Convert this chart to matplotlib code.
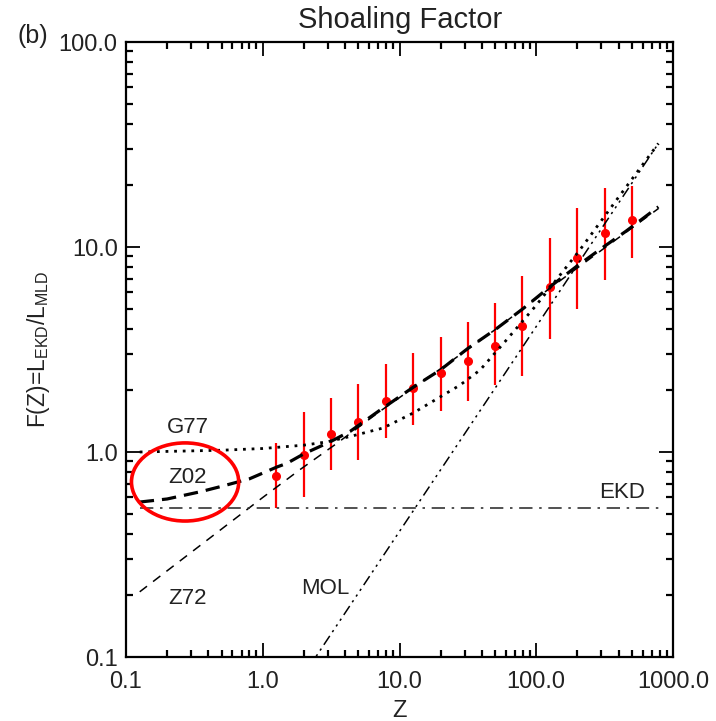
import numpy as np
import matplotlib
matplotlib.use('Agg')
import matplotlib.pyplot as plt
from matplotlib.patches import Ellipse
from matplotlib.ticker import LogLocator, NullFormatter

z_obs = [1.26, 2.0, 3.16, 5.0, 7.9, 12.6, 20, 31.6, 50, 79, 126, 200, 316, 500]
f_obs = [0.76, 0.97, 1.22, 1.40, 1.77, 2.05, 2.42, 2.78, 3.29, 4.12, 6.40, 8.87, 11.7, 13.5]
f_lo = [0.533, 0.60, 0.82, 0.91, 1.17, 1.35, 1.58, 1.77, 2.12, 2.35, 3.57, 4.97, 6.90, 8.87]
f_hi = [1.11, 1.57, 1.84, 2.15, 2.68, 3.05, 3.63, 4.32, 5.35, 7.22, 11.1, 15.5, 19.3, 19.9]

# Model curves
z_g77 = [0.126, 0.5, 1.0, 2.0, 2.94, 4.35, 7.6, 12.6, 27.7, 38.8, 59, 100, 209, 400, 782]
f_g77 = [1.0, 1.02, 1.04, 1.08, 1.12, 1.19, 1.31, 1.55, 2.12, 2.51, 3.45, 5.2, 9.7, 17.5, 32]

z_z02 = [0.126, 0.2, 0.35, 0.5, 0.8, 1.27, 1.5, 2.0, 3.1, 4.35, 7.2, 12.6, 20, 31.6, 50, 80, 126, 200, 310, 450, 782]
f_z02 = [0.57, 0.59, 0.64, 0.68, 0.74, 0.845, 0.88, 0.98, 1.12, 1.26, 1.60, 2.07, 2.52, 3.2, 3.95, 5.0, 6.4, 8.1, 10.0, 11.9, 15.7]

z_z72 = [0.126, 1.0, 1.87, 3.47, 7.2, 20, 50, 126, 310, 782]
f_z72 = [0.208, 0.6, 0.82, 1.1, 1.58, 2.55, 3.95, 6.3, 9.8, 15.4]

z_mol = [2.0, 5.0, 10, 31, 64, 200, 782]
f_mol = [0.082, 0.205, 0.41, 1.27, 2.62, 8.2, 32]

z_ekd = [0.126, 800]
f_ekd = [0.533, 0.533]

plt.rcParams['font.family'] = ['Liberation Sans', 'DejaVu Sans']

fig = plt.figure(figsize=(7.16, 7.21), dpi=100)
ax = fig.add_axes([126/716, 64/721, 547/716, 615/721])
ax.set_xscale('log')
ax.set_yscale('log')

yerr = [np.array(f_obs) - np.array(f_lo), np.array(f_hi) - np.array(f_obs)]
ax.errorbar(z_obs, f_obs, yerr=yerr, fmt='o', color='red', ms=5.5,
            elinewidth=1.6, capsize=0, zorder=2)

ax.plot(z_g77, f_g77, color='black', lw=2.0, linestyle=(0, (1, 2.1)), zorder=3)
ax.plot(z_z02, f_z02, color='black', lw=2.3, linestyle=(0, (4.5, 2.5)), zorder=3)
ax.plot(z_z72, f_z72, color='black', lw=1.1, linestyle=(0, (6, 5)), zorder=3)
ax.plot(z_mol, f_mol, color='black', lw=1.1,
        linestyle=(0, (7, 3, 1.5, 3, 1.5, 3, 1.5, 3)), zorder=3)
ax.plot(z_ekd, f_ekd, color='#333333', lw=1.2,
        linestyle=(0, (8, 4, 1.5, 4)), zorder=3)

ax.set_xlim(0.1, 1000)
ax.set_ylim(0.1, 100)

ax.set_xticks([0.1, 1, 10, 100, 1000])
ax.set_xticklabels(['0.1', '1.0', '10.0', '100.0', '1000.0'])
ax.set_yticks([0.1, 1, 10, 100])
ax.set_yticklabels(['0.1', '1.0', '10.0', '100.0'])
for axis in (ax.xaxis, ax.yaxis):
    axis.set_minor_locator(LogLocator(base=10, subs=np.arange(2, 10)))
    axis.set_minor_formatter(NullFormatter())

ax.tick_params(which='both', direction='in', top=True, right=True, colors='black',
               labelcolor='#222222')
ax.tick_params(which='major', length=10, width=1.3, labelsize=17)
ax.tick_params(which='minor', length=5, width=1.6)
ax.tick_params(axis='x', which='major', pad=10)
ax.tick_params(axis='y', which='major', pad=6)
for sp in ax.spines.values():
    sp.set_linewidth(1.6)

ax.set_xlabel('Z', fontsize=17, color='#222222')
ax.xaxis.set_label_coords(0.5, -0.07)
ax.set_ylabel(r'F(Z)=L$_{\mathregular{EKD}}$/L$_{\mathregular{MLD}}$', fontsize=16.5,
              color='#222222')
ax.yaxis.set_label_coords(-0.135, 0.5)

fig.text(400/716, 1 - 20/721, 'Shoaling Factor', ha='center', va='center',
         fontsize=21, color='#222222')
fig.text(33/716, 1 - 36/721, '(b)', ha='center', va='center', fontsize=18,
         color='#222222')

lab = dict(ha='center', va='center', fontsize=16, color='#222222')
ax.text(0.284, 1.31, 'G77', **lab)
ax.text(0.284, 0.751, 'Z02', **lab)
ax.text(0.284, 0.194, 'Z72', **lab)
ax.text(2.88, 0.215, 'MOL', **lab)
ax.text(424, 0.638, 'EKD', **lab)

ell = Ellipse((0.108, 0.2846), 0.196, 0.127, transform=ax.transAxes,
              fill=False, edgecolor='red', lw=2.6, zorder=5)
ax.add_patch(ell)

fig.savefig('out.png', dpi=100)
